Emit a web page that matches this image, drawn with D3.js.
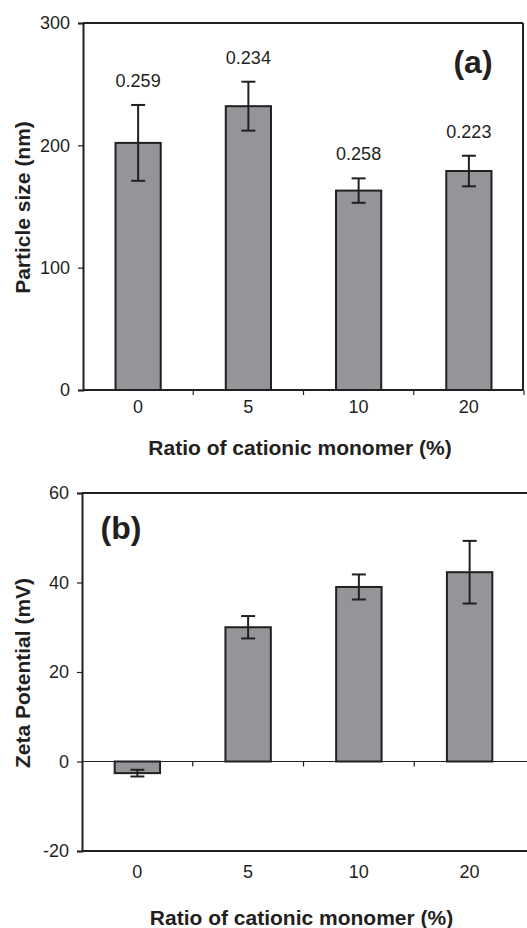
<!DOCTYPE html>
<html>
<head>
<meta charset="utf-8">
<script src="https://cdn.jsdelivr.net/npm/d3@7"></script>
<style>
  html, body { margin: 0; padding: 0; background: #fff; }
  svg { display: block; }
  text { font-family: "Liberation Sans", Arial, sans-serif; fill: #231f20; }
</style>
</head>
<body>
<svg id="chart" width="527" height="928"></svg>
<script>
// ---- data ----
const categories = ["0", "5", "10", "20"];
const sizeMean = [202, 232, 163, 179];
const sizeErr = [31, 20, 10, 12.5];
const pdiLabels = ["0.259", "0.234", "0.258", "0.223"];
const zetaMean = [-2.6, 30, 39, 42.3];
const zetaErr = [0.75, 2.5, 2.8, 7];
const sizeTicks = [0, 100, 200, 300];
const zetaTicks = [-20, 0, 20, 40, 60];
const xTitle = "Ratio of cationic monomer (%)";

const ink = "#231f20";
const barFill = "#939598";
const svg = d3.select("#chart");

function panel(opts) {
  const g = svg.append("g");
  const x = d3.scaleBand().domain(categories).range(opts.xRange)
    .paddingInner(0.59).paddingOuter(0.295);
  const y = d3.scaleLinear().domain(opts.yDomain).range(opts.yRange);
  const [left, right] = opts.xRange;
  const top = opts.yRange[1], bottom = opts.yRange[0];
  const step = x.step();

  // bars
  const data = categories.map((c, i) => ({c, v: opts.mean[i], e: opts.err[i], i}));
  g.selectAll("rect.bar").data(data).join("rect")
    .attr("class", "bar")
    .attr("x", d => x(d.c))
    .attr("width", x.bandwidth())
    .attr("y", d => y(Math.max(0, d.v)))
    .attr("height", d => Math.abs(y(d.v) - y(0)))
    .attr("fill", barFill)
    .attr("stroke", ink)
    .attr("stroke-width", 2);

  // error bars
  const cap = 7;
  const eb = g.selectAll("g.err").data(data).join("g").attr("class", "err")
    .attr("stroke", ink).attr("stroke-width", 2);
  eb.append("line")
    .attr("x1", d => x(d.c) + x.bandwidth() / 2).attr("x2", d => x(d.c) + x.bandwidth() / 2)
    .attr("y1", d => y(d.v + d.e)).attr("y2", d => y(d.v - d.e));
  eb.append("line")
    .attr("x1", d => x(d.c) + x.bandwidth() / 2 - cap).attr("x2", d => x(d.c) + x.bandwidth() / 2 + cap)
    .attr("y1", d => y(d.v + d.e)).attr("y2", d => y(d.v + d.e));
  eb.append("line")
    .attr("x1", d => x(d.c) + x.bandwidth() / 2 - cap).attr("x2", d => x(d.c) + x.bandwidth() / 2 + cap)
    .attr("y1", d => y(d.v - d.e)).attr("y2", d => y(d.v - d.e));

  // y axis
  const yAxis = d3.axisLeft(y).tickValues(opts.yTicks).tickSize(5).tickPadding(8)
    .tickFormat(d => String(d));
  const ya = g.append("g").attr("transform", `translate(${left},0)`).call(yAxis);
  ya.select(".domain").attr("stroke", ink).attr("stroke-width", 2);
  ya.selectAll(".tick line").attr("stroke", ink).attr("stroke-width", 1.2);
  ya.selectAll(".tick text").attr("font-size", 18).attr("fill", ink)
    .attr("font-family", "'Liberation Sans', Arial, sans-serif");

  // top border
  g.append("line").attr("x1", left).attr("x2", opts.frameRight)
    .attr("y1", top).attr("y2", top).attr("stroke", ink).attr("stroke-width", 2);
  if (opts.rightBorder) {
    g.append("line").attr("x1", opts.frameRight).attr("x2", opts.frameRight)
      .attr("y1", top).attr("y2", bottom).attr("stroke", ink).attr("stroke-width", 2);
  }
  // bottom border
  g.append("line").attr("x1", left).attr("x2", opts.frameRight)
    .attr("y1", bottom).attr("y2", bottom).attr("stroke", ink).attr("stroke-width", 2);

  // category axis line at zero
  const y0 = y(0);
  if (y0 !== bottom) {
    g.append("line").attr("x1", left).attr("x2", opts.frameRight)
      .attr("y1", y0).attr("y2", y0).attr("stroke", ink).attr("stroke-width", 1.2);
  }
  // category boundary ticks
  const bounds = d3.range(1, categories.length + (opts.rightBorder ? 1 : 0)).map(k => left + k * step);
  g.selectAll("line.ctick").data(bounds).join("line").attr("class", "ctick")
    .attr("x1", d => d).attr("x2", d => d)
    .attr("y1", y0).attr("y2", y0 + 5)
    .attr("stroke", ink).attr("stroke-width", 1.2);

  // category labels
  g.selectAll("text.cat").data(categories).join("text").attr("class", "cat")
    .attr("x", d => x(d) + x.bandwidth() / 2)
    .attr("y", opts.catBaseline)
    .attr("text-anchor", "middle")
    .attr("font-size", 18)
    .text(d => d);

  // x title
  g.append("text")
    .attr("x", (left + opts.frameRight) / 2 - 3)
    .attr("y", opts.xTitleBaseline)
    .attr("text-anchor", "middle")
    .attr("font-size", 21).attr("font-weight", "bold")
    .text(xTitle);

  // y title
  g.append("text")
    .attr("transform", `translate(30,${(top + bottom) / 2 + 1}) rotate(-90)`)
    .attr("text-anchor", "middle")
    .attr("font-size", 21).attr("font-weight", "bold")
    .text(opts.yTitle);

  // panel letter
  g.append("text")
    .attr("x", opts.letterPos[0]).attr("y", opts.letterPos[1])
    .attr("text-anchor", "middle")
    .attr("font-size", 32).attr("font-weight", "bold")
    .text(opts.letter);

  return {g, x, y, data};
}

const a = panel({
  xRange: [83, 524], frameRight: 523, rightBorder: true,
  yDomain: [0, 300], yRange: [390, 23], yTicks: sizeTicks,
  mean: sizeMean, err: sizeErr,
  catBaseline: 413, xTitleBaseline: 455,
  yTitle: "Particle size (nm)", letter: "(a)", letterPos: [473, 73]
});

// PDI labels above error bars
a.g.selectAll("text.pdi").data(a.data).join("text").attr("class", "pdi")
  .attr("x", d => a.x(d.c) + a.x.bandwidth() / 2)
  .attr("y", d => a.y(d.v + d.e) - 18)
  .attr("text-anchor", "middle")
  .attr("font-size", 18)
  .text(d => pdiLabels[d.i]);

panel({
  xRange: [82, 525], frameRight: 527, rightBorder: false,
  yDomain: [-20, 60], yRange: [851, 493], yTicks: zetaTicks,
  mean: zetaMean, err: zetaErr,
  catBaseline: 878, xTitleBaseline: 925,
  yTitle: "Zeta Potential (mV)", letter: "(b)", letterPos: [121, 539]
});
</script>
</body>
</html>
